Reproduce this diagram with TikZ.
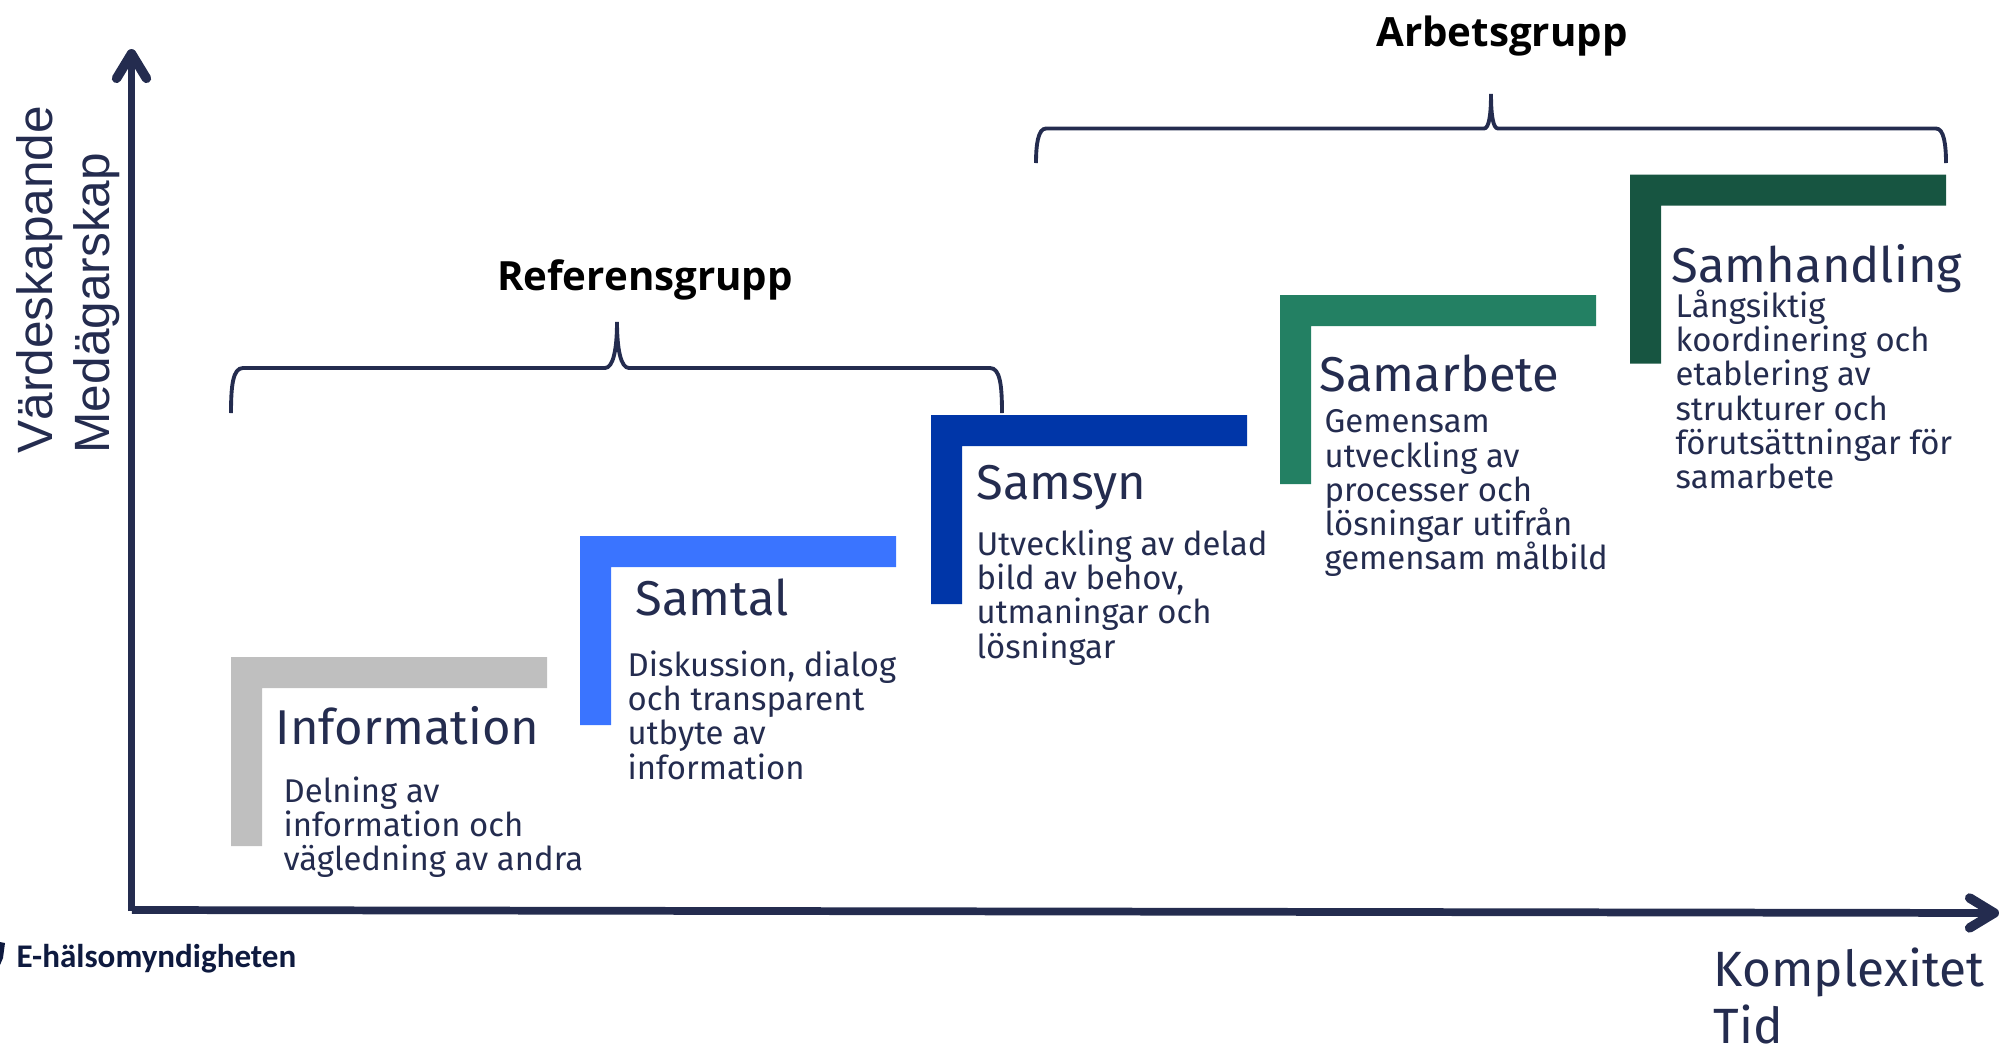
\documentclass[tikz,border=0pt]{standalone}
\usepackage{fontspec}
\setmainfont{Fira Sans}[Scale=1]
\newfontfamily\groupfont{Open Sans}
\newfontfamily\logofont{Carlito}
\newfontfamily\sidefont{Liberation Sans}
\usetikzlibrary{arrows.meta}
\normallineskiplimit=-5pt\relax
\lineskiplimit=-5pt\relax
\definecolor{axisblue}{HTML}{242C4F}
\definecolor{stepgrey}{HTML}{BFBFBF}
\definecolor{stepsky}{HTML}{3A74FF}
\definecolor{stepnavy}{HTML}{0036A8}
\definecolor{stepteal}{HTML}{238063}
\definecolor{stepforest}{HTML}{175541}
\definecolor{logoblue}{HTML}{0E1A3F}
\tikzset{
  axisline/.style={draw=axisblue,line width=2.2pt,-{Straight Barb[length=7pt,width=8.5pt,line width=2.7pt,round]}},
  bracket/.style={draw=axisblue,line width=1.1pt},
  steptitle/.style={anchor=base west,inner sep=0pt,text=axisblue,font=\fontsize{13.9}{16}\selectfont},
  steptext/.style={anchor=north west,inner sep=0pt,align=left,text=axisblue,font=\fontsize{9.35}{9.75}\selectfont},
  axislabel/.style={inner sep=0pt,text=axisblue,font=\fontsize{14.1}{16}\selectfont},
  sidelabel/.style={inner sep=0pt,rotate=90,anchor=base west,text=axisblue,font=\fontsize{14.1}{16}\sidefont},
  grouplabel/.style={inner sep=0pt,text=black,font=\fontsize{11.45}{13}\groupfont\bfseries},
}
\begin{document}
\begin{tikzpicture}[x=0.01cm,y=-0.01cm]
\useasboundingbox (0,0) rectangle (1999,1045);

\foreach \col/\x/\y in {stepgrey/231/657,stepsky/580/536,stepnavy/931/415,stepteal/1280/295,stepforest/1630/174.5}{
\fill[\col] (\x,\y) -- ++(316,0) -- ++(0,31) -- ++(-285,0) -- ++(0,158) -- ++(-31,0) -- cycle;
}

\coordinate (origin) at (131.5,911);
\coordinate (ytop) at (131.5,49);
\coordinate (xstart) at (132,910);
\coordinate (xend) at (1999,913);
\draw[axisline] (origin) -- (ytop);
\draw[axisline] (xstart) -- (xend);

\draw[bracket] (231,413) .. controls (231,385) and (233,368) .. (243,368) -- (605,368) .. controls (613,368) and (617,350) .. (617,322) .. controls (617,350) and (621,368) .. (629,368) -- (990,368) .. controls (1000,368) and (1002,385) .. (1002,413);
\draw[bracket] (1036,163) .. controls (1036,145) and (1038,128.5) .. (1046,128.5) -- (1484,128.5) .. controls (1489,128.5) and (1491,115) .. (1491,94) .. controls (1491,115) and (1493,128.5) .. (1498,128.5) -- (1936,128.5) .. controls (1944,128.5) and (1946,145) .. (1946,163);

\node[grouplabel] (referens) at (645,280) {Referensgrupp};
\node[grouplabel] (arbets) at (1502,36) {Arbetsgrupp};

\node[steptitle] (information) at (275,744) {Information};
\node[steptext] (informationtext) at (283,776) {Delning av\\information och\\vägledning av andra};
\node[steptitle] (samtal) at (635,615) {Samtal};
\node[steptext] (samtaltext) at (627,650) {Diskussion, dialog\\och transparent\\utbyte av\\information};
\node[steptitle] (samsyn) at (976,499) {Samsyn};
\node[steptext] (samsyntext) at (976,529) {Utveckling av delad\\bild av behov,\\utmaningar och\\lösningar};
\node[steptitle] (samarbete) at (1319,391) {Samarbete};
\node[steptext] (samarbetetext) at (1324,409) {Gemensam\\utveckling av\\processer och\\lösningar utifrån\\gemensam målbild};
\node[steptitle] (samhandling) at (1671,282) {Samhandling};
\node[steptext] (samhandlingtext) at (1675,289) {Långsiktig\\koordinering och\\etablering av\\strukturer och\\förutsättningar för\\samarbete};

\node[sidelabel] (vardeskapande) at (52,454) {Värdeskapande};
\node[sidelabel] (medagarskap) at (110,454) {Medägarskap};
\node[axislabel,anchor=base west] (komplexitet) at (1713,986) {Komplexitet};
\node[axislabel,anchor=base west] (tid) at (1713,1043) {Tid};

\fill[logoblue] (0,942) -- (5,943) -- (3,958) -- (0,965) -- cycle;
\node[anchor=base west,inner sep=0pt,text=logoblue,font=\fontsize{9.4}{11}\logofont\bfseries] (logo) at (16,967) {E-hälsomyndigheten};
\end{tikzpicture}
\end{document}
